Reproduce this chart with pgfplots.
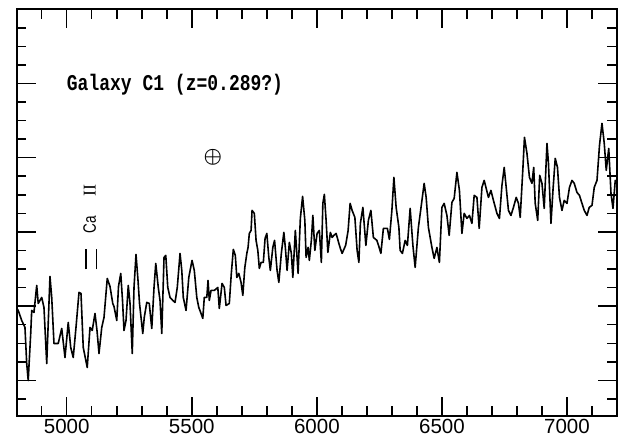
\documentclass[border=0pt]{standalone}
\usepackage{amsmath}
\usepackage{fontspec}
\setmainfont{Liberation Serif}
\newfontfamily\tickfont{Liberation Sans}
\newfontfamily\labfont{Liberation Sans}
\newfontfamily\monofont{Liberation Mono}
\usepackage{pgfplots}
\pgfplotsset{compat=1.18}
\usepackage{pgfplotstable}

% spectrum of galaxy C1, flux in arbitrary units
\pgfplotstableread{
lam h
4801 109
4806 107
4820 97
4833 90
4840 54
4846 37
4856 84
4860 107
4869 105
4880 132
4886 114
4900 120
4909 110
4920 54
4933 141
4940 120
4949 74
4966 74
4980 89
4993 60
5006 95
5016 70
5026 60
5037 90
5049 125
5057 124
5066 70
5082 50
5093 90
5102 87
5113 104
5121 87
5129 64
5140 90
5149 100
5162 139
5173 131
5184 114
5189 111
5200 97
5207 131
5216 144
5223 117
5229 87
5237 97
5246 132
5253 114
5262 64
5269 130
5277 163
5285 137
5291 114
5304 84
5310 100
5320 115
5330 114
5340 89
5349 130
5356 154
5366 130
5373 117
5380 84
5389 160
5396 162
5404 130
5413 120
5424 117
5433 115
5442 130
5453 164
5460 147
5466 120
5477 107
5488 140
5501 157
5510 147
5520 120
5528 110
5537 104
5544 99
5550 120
5560 120
5565 137
5570 117
5577 127
5590 127
5604 130
5610 109
5621 134
5630 130
5637 112
5650 114
5658 144
5666 168
5674 162
5680 140
5688 144
5697 135
5704 122
5712 150
5720 164
5725 170
5730 184
5737 187
5741 207
5750 204
5757 177
5764 167
5770 149
5777 155
5786 155
5793 179
5800 184
5808 160
5814 147
5824 170
5831 177
5841 147
5848 135
5858 164
5868 185
5874 170
5881 147
5890 175
5898 164
5904 140
5914 187
5925 144
5934 199
5943 221
5952 197
5957 160
5965 170
5970 157
5978 177
5984 202
5992 167
6001 184
6010 187
6018 155
6024 214
6030 223
6037 197
6044 165
6054 185
6061 180
6068 182
6077 184
6088 174
6094 169
6101 164
6115 172
6125 187
6133 214
6141 207
6152 200
6161 167
6168 155
6174 194
6184 210
6196 172
6206 197
6216 207
6226 180
6240 177
6249 170
6256 164
6266 189
6282 189
6290 178
6300 207
6308 240
6317 210
6328 190
6333 167
6342 164
6353 177
6362 172
6373 209
6384 172
6393 150
6406 190
6416 209
6429 234
6437 220
6446 190
6460 170
6469 159
6480 170
6490 155
6500 210
6509 214
6520 202
6529 182
6540 215
6549 219
6560 245
6570 227
6580 184
6589 204
6600 199
6610 202
6620 194
6629 222
6640 220
6649 189
6660 230
6669 237
6677 229
6686 220
6696 227
6706 217
6720 204
6730 199
6740 232
6749 250
6757 230
6766 207
6776 202
6786 210
6797 220
6806 214
6813 200
6824 250
6830 280
6840 264
6850 240
6860 234
6867 250
6873 214
6883 197
6891 242
6900 234
6909 209
6920 274
6926 254
6936 194
6944 227
6953 259
6962 250
6970 220
6980 207
6989 217
7000 214
7010 230
7020 237
7029 234
7040 225
7050 222
7060 214
7069 207
7080 202
7089 210
7100 212
7109 230
7120 237
7130 272
7140 294
7149 274
7157 247
7167 269
7176 224
7184 209
7193 237
7200 234
}\spec

\begin{document}
\begin{tikzpicture}
\useasboundingbox (-16.7bp,-26.5bp) rectangle (606bp,415.8bp);
\begin{axis}[
  scale only axis,
  width=600bp, height=406.5bp,
  xmin=4800, xmax=7200,
  ymin=1.5, ymax=408,
  xtick={5000,5500,...,7000},
  minor xtick={4900,5000,...,7100},
  ytick={37.1,111.3,185.5,259.7,333.9},
  minor ytick={18.55,55.65,74.2,92.75,129.85,148.4,166.95,204.05,222.6,241.15,278.25,296.8,315.35,352.45,371,389.55},
  yticklabels={},
  tick align=inside,
  major tick length=19bp,
  minor tick length=9.5bp,
  scaled x ticks=false,
  /pgf/number format/1000 sep={},
  /pgf/number format/assume math mode=true,
  xticklabel style={font=\tickfont\fontsize{20.5bp}{22bp}\selectfont, yshift=0.5bp},
  axis line style={line width=1.8bp},
  every tick/.style={black, line width=1.5bp},
]
\addplot[black, line width=1.6bp, line join=round] table[x=lam, y=h] {\spec};
% Ca II H and K markers
\addplot[black, line width=1.4bp] coordinates {(5077,148) (5077,168)};
\addplot[black, line width=1.4bp] coordinates {(5120,148) (5120,168)};
\node[anchor=west, inner sep=0pt, yscale=1.25, font=\monofont\bfseries\fontsize{18bp}{20bp}\selectfont] at (axis cs:5000,333) {Galaxy C1 (z=0.289?)};
\node[inner sep=0pt, font=\fontsize{20bp}{20bp}\selectfont] at (axis cs:5584,260) {$\boldsymbol{\oplus}$};
\node[rotate=90, inner sep=0pt, font=\labfont\fontsize{18bp}{20bp}\selectfont] at (axis cs:5092,193) {\scalebox{0.75}[1]{Ca}};
\node[rotate=90, inner sep=0pt, font=\rmfamily\fontsize{18bp}{20bp}\selectfont] at (axis cs:5092,227) {II};
\end{axis}
\end{tikzpicture}
\end{document}
